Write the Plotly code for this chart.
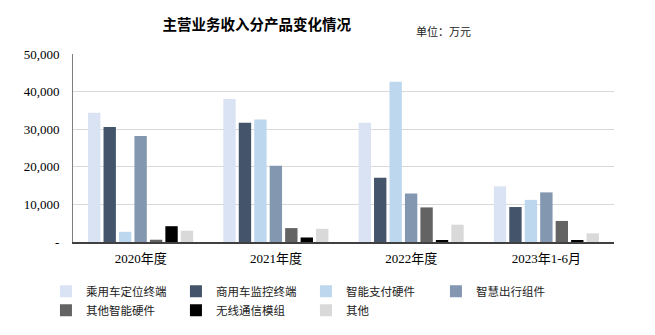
import plotly.graph_objects as go

# Revenue by product line (unit: 10k CNY)
periods = ["2020年度", "2021年度", "2022年度", "2023年1-6月"]
series_names = ["乘用车定位终端", "商用车监控终端", "智能支付硬件", "智慧出行组件",
                "其他智能硬件", "无线通信模组", "其他"]
passenger_terminal = [34400, 38000, 31700, 14800]
commercial_terminal = [30600, 31700, 17100, 9300]
payment_hardware = [2700, 32600, 42600, 11200]
mobility_components = [28200, 20300, 12900, 13200]
other_smart_hardware = [600, 3700, 9200, 5600]
wireless_modules = [4200, 1200, 400, 350]
others = [3000, 3500, 4600, 2300]
y_tick_vals = [0, 10000, 20000, 30000, 40000, 50000]
y_tick_text = ["-", "10,000", "20,000", "30,000", "40,000", "50,000"]

series_values = [passenger_terminal, commercial_terminal, payment_hardware,
                 mobility_components, other_smart_hardware, wireless_modules, others]
colors = ["#DAE3F3", "#44546A", "#BDD7EE", "#8497B0", "#636363", "#000000", "#D9D9D9"]

FONT = "Liberation Serif, Noto Sans CJK SC, serif"

fig = go.Figure()
for name, vals, col in zip(series_names, series_values, colors):
    fig.add_trace(go.Bar(x=periods, y=vals, name=name, marker_color=col,
                         marker_line_width=0))

fig.update_layout(
    width=655, height=335,
    margin=dict(l=73, r=41, t=54, b=93, autoexpand=False),
    paper_bgcolor="white", plot_bgcolor="white",
    barmode="group", bargap=0.2, bargroupgap=0.2,
    font=dict(family=FONT, size=13, color="#000000"),
    title=dict(text="<b>主营业务收入分产品变化情况</b>", x=0.392, xanchor="center",
               y=1 - 25 / 335, yanchor="middle", xref="container", yref="container",
               font=dict(family="Noto Sans CJK SC", size=14.5, color="#000000")),
    showlegend=True,
    legend=dict(orientation="h", x=-0.05, xanchor="left", y=-0.185, yanchor="top",
                entrywidth=85, entrywidthmode="pixels", itemwidth=30,
                bgcolor="rgba(0,0,0,0)",
                font=dict(family="Noto Sans CJK SC", size=11.5, color="#222222"),
                tracegroupgap=0, traceorder="normal"),
    annotations=[dict(text="单位：万元", x=0.739, y=1.122, xref="paper",
                      yref="paper", xanchor="right", yanchor="middle",
                      showarrow=False,
                      font=dict(family="Noto Sans CJK SC", size=11, color="#222222"))],
)
fig.update_xaxes(showline=True, linecolor="#404040", linewidth=1.5, ticks="",
                 ticklabelstandoff=4,
                 tickfont=dict(family=FONT, size=13), showgrid=False)
fig.update_yaxes(range=[0, 50000], tickvals=y_tick_vals, ticktext=y_tick_text,
                 showline=True, linecolor="#7F7F7F", linewidth=1, ticks="",
                 ticklabelstandoff=10,
                 gridcolor="#D9D9D9", gridwidth=1, zeroline=False,
                 tickfont=dict(family=FONT, size=13))

fig.write_html("out.html")
